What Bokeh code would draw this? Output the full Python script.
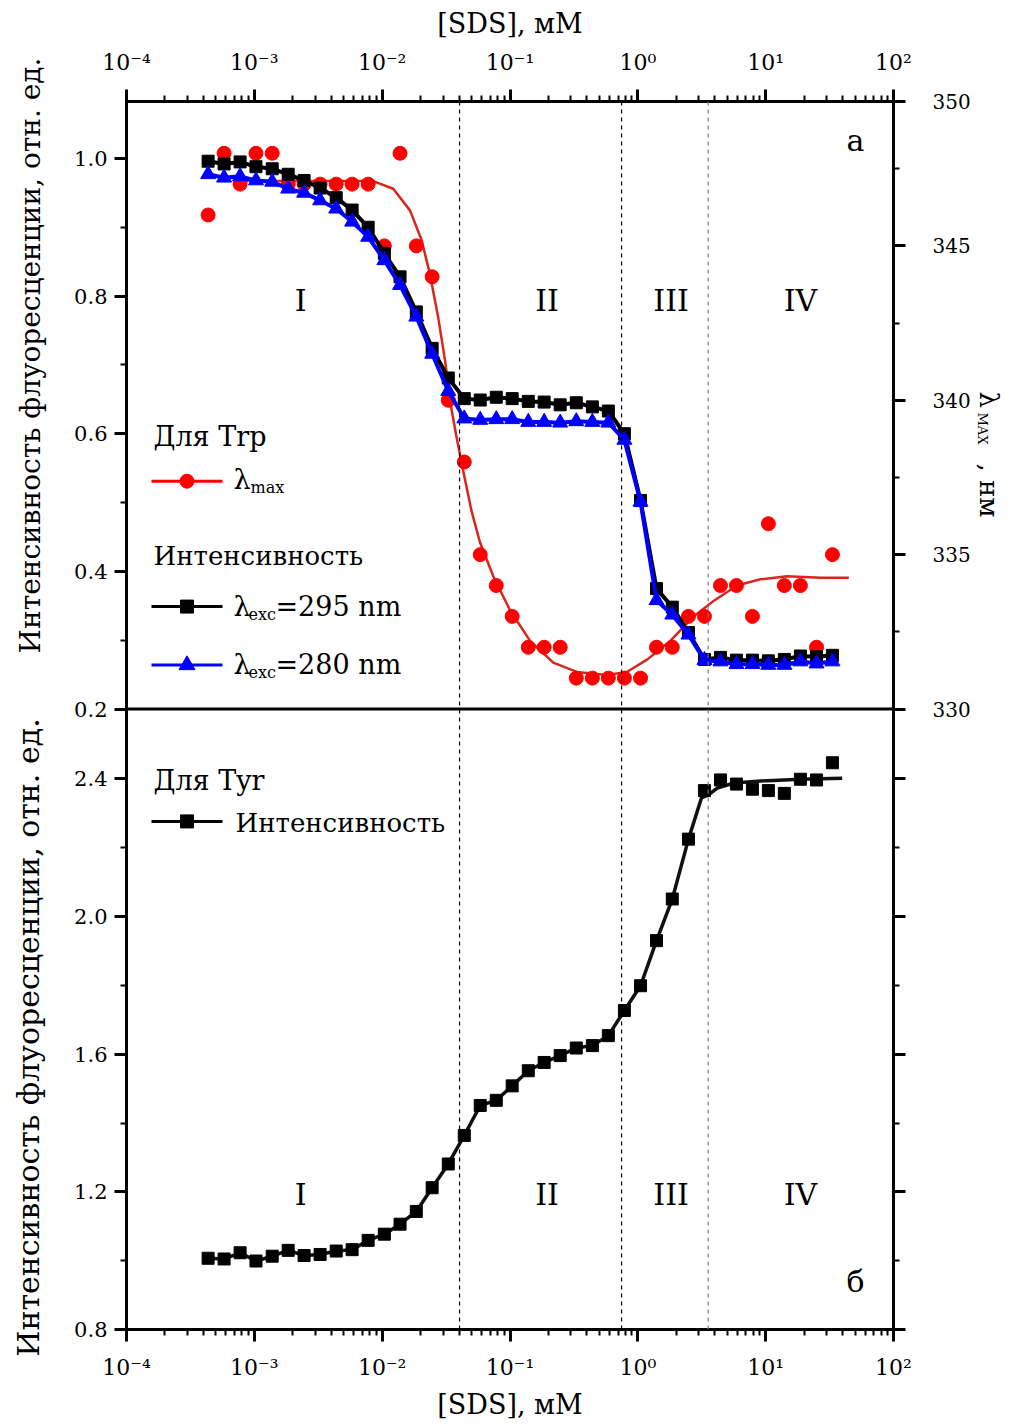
from bokeh.plotting import figure
from bokeh.models import (Range1d, LinearAxis, LogAxis, FixedTicker, CustomJSTickFormatter,
                          Span, Label)
from bokeh.layouts import row
from bokeh.core.properties import value
from bokeh.embed import file_html
from bokeh.resources import INLINE

FONT = "DejaVu Serif"

# ---------------- data ----------------
sds = [0.000435, 0.00058, 0.000774, 0.00103, 0.00138, 0.00184, 0.00245, 0.00327,
       0.00437, 0.00582, 0.00777, 0.0104, 0.0138, 0.0185, 0.0246, 0.0329, 0.0439,
       0.0585, 0.0781, 0.104, 0.139, 0.185, 0.247, 0.330, 0.441, 0.588, 0.785,
       1.05, 1.40, 1.86, 2.49, 3.32, 4.43, 5.91, 7.88, 10.5, 14.0, 18.7, 25.0, 33.3]

trp_295 = [0.996, 0.992, 0.995, 0.988, 0.985, 0.977, 0.968, 0.957, 0.943, 0.925,
           0.900, 0.862, 0.828, 0.777, 0.724, 0.681, 0.651, 0.649, 0.653, 0.651,
           0.647, 0.646, 0.642, 0.645, 0.639, 0.633, 0.600, 0.503, 0.375, 0.348,
           0.311, 0.272, 0.275, 0.271, 0.271, 0.270, 0.272, 0.277, 0.276, 0.278]

trp_280 = [0.977, 0.972, 0.974, 0.968, 0.966, 0.956, 0.950, 0.939, 0.927, 0.908,
           0.886, 0.852, 0.816, 0.770, 0.716, 0.662, 0.622, 0.620, 0.621, 0.621,
           0.617, 0.617, 0.616, 0.618, 0.617, 0.616, 0.591, 0.501, 0.358, 0.337,
           0.308, 0.271, 0.269, 0.265, 0.265, 0.264, 0.264, 0.269, 0.266, 0.269]

trp_lmax = [346, 348, 347, 348, 348, 347, 347, 347, 347, 347, 347, 345, 348, 345,
            344, 340, 338, 335, 334, 333, 332, 332, 332, 331, 331, 331, 331, 331,
            332, 332, 333, 333, 334, 334, 333, 336, 334, 334, 332, 335]

lmax_fit_sds = [0.000767, 0.00849, 0.0122, 0.0165, 0.0203, 0.0236, 0.0274, 0.0310,
                0.0349, 0.0382, 0.0431, 0.0501, 0.0582, 0.0740, 0.100, 0.144, 0.218,
                0.333, 0.572, 0.820, 1.18, 1.79, 2.73, 3.91, 5.97, 9.08, 14.7, 27.0, 44.7]
lmax_fit = [347.1, 347.1, 346.85, 346.15, 345.2, 344.1, 342.7, 341.3, 339.7, 338.8,
            337.7, 336.4, 335.4, 334.3, 333.2, 332.2, 331.5, 331.2, 331.1, 331.2,
            331.6, 332.2, 333.0, 333.5, 334.0, 334.2, 334.3, 334.25, 334.25]

tyr_int = [1.007, 1.005, 1.023, 0.999, 1.013, 1.030, 1.015, 1.018, 1.028, 1.032,
           1.059, 1.077, 1.106, 1.143, 1.212, 1.281, 1.364, 1.451, 1.466, 1.508,
           1.552, 1.576, 1.596, 1.618, 1.625, 1.654, 1.727, 1.799, 1.930, 2.051,
           2.225, 2.366, 2.397, 2.385, 2.370, 2.366, 2.358, 2.399, 2.397, 2.447]

tyr_fit_tail_sds = [3.15, 3.59, 4.18, 5.64, 10.3, 18.8, 39.7]
tyr_fit_tail = [2.345, 2.354, 2.373, 2.388, 2.395, 2.399, 2.402]

boundaries = [0.0403, 0.746, 3.55]
regions = ["I", "II", "III", "IV"]
region_sds = [0.0023, 0.195, 1.82, 18.7]

x_ticks = [1e-4, 1e-3, 1e-2, 1e-1, 1e0, 1e1, 1e2]
top_ticks = [0.2, 0.4, 0.6, 0.8, 1.0]
top_minor = [0.3, 0.5, 0.7, 0.9]
bot_ticks = [0.8, 1.2, 1.6, 2.0, 2.4]
bot_minor = [1.0, 1.4, 1.8, 2.2]
lam_ticks = [330, 335, 340, 345, 349.67]
lam_minor = [332.5, 337.5, 342.5, 347.5]

# ---------------- geometry (page pixels, page origin at 0,0) ----------------
H = 1422
LEFT_W, MAIN_W, RIGHT_W = 50, 925, 35
MAIN_X0 = LEFT_W
F_LEFT, F_RIGHT = 126, 893
F_TOP, F_MID, F_BOT = 101, 709, 1330
PX_TOP = 688.75      # px per unit, Trp intensity
PX_LAM = 30.9        # px per nm
PX_BOT = 344.4       # px per unit, Tyr intensity

TRP_RANGE = (0.2 - (F_BOT - F_MID) / PX_TOP, 0.2 + (F_MID - F_TOP) / PX_TOP)
LAM_RANGE = (330 - (F_BOT - F_MID) / PX_LAM, 330 + (F_MID - F_TOP) / PX_LAM)
MAIN_RANGE = (0.8, 0.8 + (F_BOT - F_TOP) / PX_BOT)
U_MID = 0.8 + (F_BOT - F_MID) / PX_BOT


def u_top(v):
    return U_MID + (v - 0.2) * PX_TOP / PX_BOT


def u_lam(l):
    return U_MID + (l - 330) * PX_LAM / PX_BOT


def xd(px):
    return 10 ** (-4 + (px - F_LEFT) * 6.0 / (F_RIGHT - F_LEFT))


def yt(py):
    return 0.2 + (F_MID - py) / PX_TOP


def yb(py):
    return 0.8 + (F_BOT - py) / PX_BOT


minor_x = [m * 10.0 ** e for e in range(-4, 2) for m in range(2, 10)]

log_fmt = CustomJSTickFormatter(code="""
const e = Math.round(Math.log10(tick));
const sup = {"-":"\u207b","0":"\u2070","1":"\u00b9","2":"\u00b2","3":"\u00b3",
             "4":"\u2074","5":"\u2075","6":"\u2076","7":"\u2077","8":"\u2078","9":"\u2079"};
return "10" + String(e).split("").map(c => sup[c]).join("");
""")


def style_axis(ax, size="21px"):
    ax.axis_line_width = 3
    ax.axis_line_color = "black"
    ax.major_tick_line_width = 3
    ax.minor_tick_line_width = 2
    ax.major_tick_line_color = "black"
    ax.minor_tick_line_color = "black"
    ax.major_tick_out = 12
    ax.major_tick_in = 0
    ax.minor_tick_out = 6
    ax.minor_tick_in = 0
    ax.major_label_text_font = FONT
    ax.major_label_text_font_size = size
    ax.major_label_text_color = "black"
    ax.axis_label_text_font = FONT
    ax.axis_label_text_font_style = "normal"
    ax.axis_label_text_font_size = "27px"
    ax.axis_label_text_color = "black"


# ---------------- main figure (both panels) ----------------
p = figure(width=MAIN_W, height=H, x_axis_type="log", x_range=Range1d(1e-4, 1e2),
           y_range=Range1d(*MAIN_RANGE), output_backend="svg", toolbar_location=None,
           min_border_left=F_LEFT - MAIN_X0, min_border_right=MAIN_X0 + MAIN_W - F_RIGHT,
           min_border_top=F_TOP, min_border_bottom=H - F_BOT, frame_align=False)
p.extra_y_ranges = {"trp": Range1d(*TRP_RANGE), "lam": Range1d(*LAM_RANGE)}
p.grid.visible = False
p.outline_line_color = "black"
p.outline_line_width = 3
p.background_fill_color = "white"
p.border_fill_color = "white"

bx = p.xaxis[0]
bx.ticker = FixedTicker(ticks=x_ticks, minor_ticks=minor_x)
bx.formatter = log_fmt
style_axis(bx, "22px")
bx.axis_label = "[SDS], мМ"
bx.major_label_standoff = 13
bx.axis_label_standoff = 6

tx = LogAxis(ticker=FixedTicker(ticks=x_ticks, minor_ticks=minor_x), formatter=log_fmt,
             axis_label="[SDS], мМ")
style_axis(tx, "22px")
tx.major_label_standoff = 15
tx.axis_label_standoff = 8
p.add_layout(tx, "above")

ly = p.yaxis[0]
ly.ticker = FixedTicker(ticks=bot_ticks + [u_top(v) for v in top_ticks],
                        minor_ticks=bot_minor + [u_top(v) for v in top_minor])
ly.formatter = CustomJSTickFormatter(args=dict(umid=U_MID, k=PX_BOT / PX_TOP), code="""
if (tick >= umid - 1e-6) { return (0.2 + (tick - umid) * k).toFixed(1); }
return tick.toFixed(1);
""")
style_axis(ly, "21px")
ly.major_label_standoff = 7

ry = LinearAxis(ticker=FixedTicker(ticks=bot_ticks + [u_lam(l) for l in lam_ticks],
                                   minor_ticks=bot_minor + [u_lam(l) for l in lam_minor]),
                formatter=CustomJSTickFormatter(args=dict(umid=U_MID, k=PX_BOT / PX_LAM), code="""
if (tick >= umid - 1e-6) { return Math.round(330 + (tick - umid) * k).toFixed(0); }
return "";
"""))
style_axis(ry, "20px")
ry.major_label_standoff = 27
p.add_layout(ry, "right")

# panel divider and region boundaries
p.add_layout(Span(location=U_MID, dimension="width", line_color="black", line_width=3))
b_colors = ["black", "black", "#7a7a7a"]
for b, c in zip(boundaries, b_colors):
    p.add_layout(Span(location=b, dimension="height", line_color=c,
                      line_width=1.2, line_dash="4 4"))

# ---------------- glyphs ----------------
RED, BLUE = "#ff0000", "#0000ff"
p.line(lmax_fit_sds, lmax_fit, y_range_name="lam", line_color="#d9261c", line_width=2.5)
p.scatter(sds, trp_lmax, y_range_name="lam", marker="circle", size=14,
          fill_color=RED, line_color=RED)
p.line(sds, trp_295, y_range_name="trp", line_color="black", line_width=4)
p.scatter(sds, trp_295, y_range_name="trp", marker="square", size=12,
          fill_color="black", line_color="black")
p.line(sds, trp_280, y_range_name="trp", line_color=BLUE, line_width=4)
p.scatter(sds, trp_280, y_range_name="trp", marker="triangle", size=15,
          fill_color=BLUE, line_color=BLUE)

tyr_line_x = sds[:31] + tyr_fit_tail_sds
tyr_line_y = tyr_int[:31] + tyr_fit_tail
p.line(tyr_line_x, tyr_line_y, line_color="#111111", line_width=3.5)
p.scatter(sds, tyr_int, marker="square", size=12, fill_color="black", line_color="black")


# ---------------- texts inside the frame ----------------
def lab(px, py, text, size, panel, align="left", baseline="middle"):
    if panel == "top":
        y, rn = yt(py), "trp"
    else:
        y, rn = yb(py), "default"
    p.add_layout(Label(x=xd(px), y=y, y_range_name=rn, text=text, text_font=FONT,
                       text_font_size=f"{size}px", text_color="black",
                       text_align=align, text_baseline=baseline))


for r, xs in zip(regions, region_sds):
    p.add_layout(Label(x=xs, y=yt(300), y_range_name="trp", text=r, text_font=FONT,
                       text_font_size="30px", text_color="black",
                       text_align="center", text_baseline="middle"))
    p.add_layout(Label(x=xs, y=yb(1195), text=r, text_font=FONT, text_font_size="30px",
                       text_color="black", text_align="center", text_baseline="middle"))

lab(855, 140, "а", 30, "top", align="center")
lab(855, 1282, "б", 30, "bot", align="center")

DY = 9  # baseline correction
# top legend
lab(153, 445 - DY, "Для Trp", 27, "top", baseline="alphabetic")
p.line([xd(151), xd(222)], [yt(481), yt(481)], y_range_name="trp", line_color=RED, line_width=3)
p.scatter([xd(186.5)], [yt(481)], y_range_name="trp", marker="circle", size=14,
          fill_color=RED, line_color=RED)
lab(233, 488 - DY, "λ", 27, "top", baseline="alphabetic")
lab(250, 496 - DY, "max", 16, "top", baseline="alphabetic")

lab(153, 565 - DY, "Интенсивность", 26, "top", baseline="alphabetic")
p.line([xd(151), xd(222)], [yt(606.5), yt(606.5)], y_range_name="trp",
       line_color="black", line_width=3)
p.scatter([xd(186.5)], [yt(606.5)], y_range_name="trp", marker="square", size=13,
          fill_color="black", line_color="black")
lab(233, 615 - DY, "λ", 27, "top", baseline="alphabetic")
lab(248, 623 - DY, "exc", 16, "top", baseline="alphabetic")
lab(275, 615 - DY, "=295 nm", 27, "top", baseline="alphabetic")

p.line([xd(151), xd(222)], [yt(665), yt(665)], y_range_name="trp", line_color=BLUE, line_width=3)
p.scatter([xd(186.5)], [yt(665)], y_range_name="trp", marker="triangle", size=16,
          fill_color=BLUE, line_color=BLUE)
lab(233, 673 - DY, "λ", 27, "top", baseline="alphabetic")
lab(248, 681 - DY, "exc", 16, "top", baseline="alphabetic")
lab(275, 673 - DY, "=280 nm", 27, "top", baseline="alphabetic")

# bottom legend
lab(153, 790 - DY, "Для Tyr", 27, "bot", baseline="alphabetic")
p.line([xd(151), xd(222)], [yb(821.5), yb(821.5)], line_color="black", line_width=3)
p.scatter([xd(186.5)], [yb(821.5)], marker="square", size=13, fill_color="black", line_color="black")
lab(235, 832 - DY, "Интенсивность", 26, "bot", baseline="alphabetic")


# ---------------- side strips with the rotated axis titles ----------------
def strip(width, page_x0):
    s = figure(width=width, height=H, x_range=Range1d(page_x0, page_x0 + width),
               y_range=Range1d(H, 0), x_axis_location=None, y_axis_location=None,
               output_backend="svg", toolbar_location=None, frame_align=False,
               min_border_left=0, min_border_right=0, min_border_top=0, min_border_bottom=0)
    s.grid.visible = False
    s.outline_line_color = None
    s.background_fill_color = "white"
    s.border_fill_color = "white"
    return s


left = strip(LEFT_W, 0)
left.text(x=[30], y=[355], text=["Интенсивность флуоресценции, отн. ед."], angle=90,
          angle_units="deg", text_font=value(FONT), text_font_size=value("28px"),
          text_color="black", text_align="center", text_baseline="middle")
left.text(x=[28], y=[1037], text=["Интенсивность флуоресценции, отн. ед."], angle=90,
          angle_units="deg", text_font=value(FONT), text_font_size=value("30px"),
          text_color="black", text_align="center", text_baseline="middle")

right = strip(RIGHT_W, MAIN_X0 + MAIN_W)
right.text(x=[988], y=[391], text=["λ"], angle=-90, angle_units="deg",
           text_font=value(FONT), text_font_size=value("26px"), text_color="black",
           text_align="left", text_baseline="alphabetic")
right.text(x=[982], y=[412], text=["MAX"], angle=-90, angle_units="deg",
           text_font=value(FONT), text_font_size=value("13px"), text_color="black",
           text_align="left", text_baseline="alphabetic")
right.text(x=[988], y=[463], text=[", нм"], angle=-90, angle_units="deg",
           text_font=value(FONT), text_font_size=value("26px"), text_color="black",
           text_align="left", text_baseline="alphabetic")

layout = row(left, p, right)
open("out.html", "w").write(file_html(layout, INLINE))
